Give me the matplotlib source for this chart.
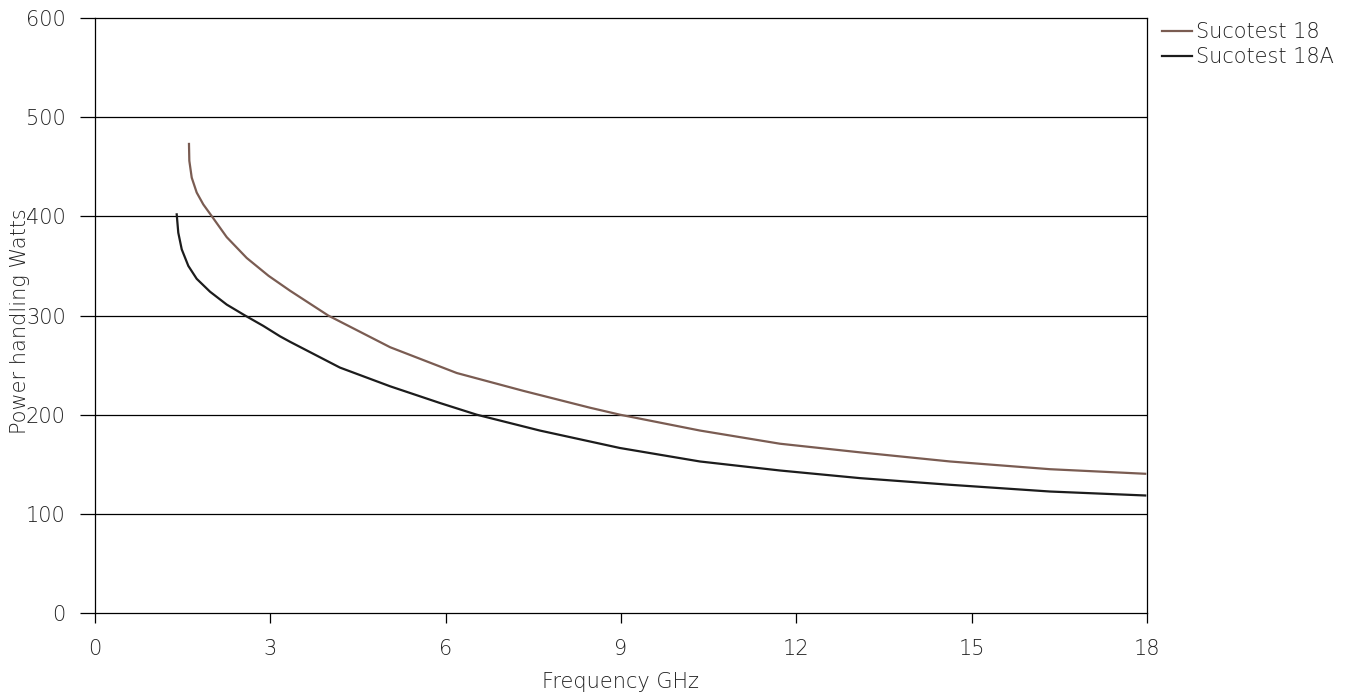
import matplotlib
matplotlib.use("Agg")
import matplotlib.pyplot as plt

# values
freq_18 = [1.608, 1.614, 1.655, 1.74, 1.853, 2.0, 2.254, 2.596, 2.97, 3.337,
           3.99, 5.05, 6.19, 7.33, 8.47, 8.98, 10.35, 11.72, 13.09, 14.63,
           16.34, 17.97]
power_18 = [473, 456, 439, 424, 412, 400, 379, 358, 340, 325,
            300, 268, 242, 224, 207, 200, 184, 170.7, 162, 152.8,
            145, 140.4]

freq_18a = [1.398, 1.425, 1.484, 1.597, 1.74, 1.968, 2.254, 2.567, 2.88,
            3.166, 3.337, 4.19, 5.05, 5.9, 6.53, 7.61, 8.98, 10.35, 11.72,
            13.09, 14.63, 16.34, 17.97]
power_18a = [402, 383.5, 366.7, 350, 337, 324, 311, 300, 289.5,
             279, 273.5, 247.5, 228.6, 211.8, 200, 184, 166.4, 152.8, 143.7,
             136, 129.3, 122.5, 118.5]

x_ticks = [0, 3, 6, 9, 12, 15, 18]
y_ticks = [0, 100, 200, 300, 400, 500, 600]
series_names = ["Sucotest 18", "Sucotest 18A"]

BROWN = "#7a5c52"
DARK = "#1c1c1c"
TEXT = "#222222"

plt.rcParams["font.family"] = ["DejaVu Sans"]
plt.rcParams["font.size"] = 15

fig = plt.figure(figsize=(13.56, 6.97), dpi=100)
ax = fig.add_axes([95 / 1356, 84 / 697, 1052 / 1356, 595 / 697])

for y in y_ticks[1:-1]:
    ax.axhline(y, color="black", lw=0.9, zorder=1)

ax.plot(freq_18, power_18, color=BROWN, lw=1.6, label=series_names[0],
        solid_joinstyle="round", zorder=3)
ax.plot(freq_18a, power_18a, color=DARK, lw=1.6, label=series_names[1],
        solid_joinstyle="round", zorder=3)

ax.set_xlim(0, 18)
ax.set_ylim(0, 600)
ax.set_xticks(x_ticks)
ax.set_yticks(y_ticks)
for s in ax.spines.values():
    s.set_color("black")
    s.set_linewidth(0.9)

ax.tick_params(axis="y", length=11, width=0.9, pad=10, labelcolor=TEXT)
ax.tick_params(axis="x", length=7, width=0.9, pad=12, labelcolor=TEXT)
for lab in ax.get_xticklabels() + ax.get_yticklabels():
    lab.set_fontweight("light")

ax.set_xlabel("Frequency GHz", color=TEXT, fontweight="light")
ax.xaxis.set_label_coords(0.5, -0.1)
ax.set_ylabel("Power handling Watts", color=TEXT, fontweight="light")
ax.yaxis.set_label_coords(-0.062, 0.49)

leg = ax.legend(loc="upper left", bbox_to_anchor=(1162 / 1356, 1 - 22 / 697),
                bbox_transform=fig.transFigure, frameon=False, borderpad=0,
                borderaxespad=0, handlelength=1.45, handletextpad=0.2,
                labelspacing=0.25)
for t in leg.get_texts():
    t.set_color(TEXT)
    t.set_fontweight("light")

fig.savefig("out.png", dpi=100)
